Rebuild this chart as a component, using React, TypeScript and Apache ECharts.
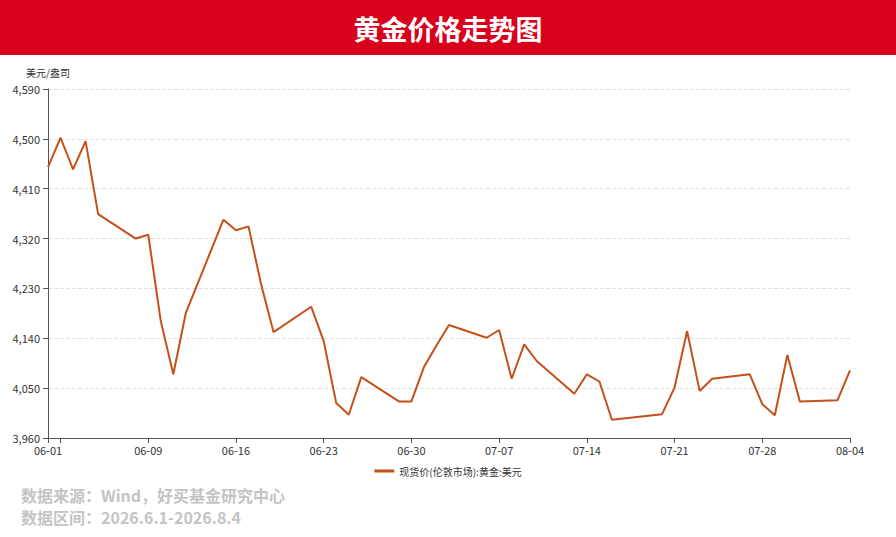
import React, { useEffect, useRef } from "react";
import * as echarts from "echarts";

const titleText = "黄金价格走势图";
const unitName = "美元/盎司";
const seriesName = "现货价(伦敦市场):黄金:美元";
const sourceLines = ["数据来源：Wind，好买基金研究中心", "数据区间：2026.6.1-2026.8.4"];

const dates = [
  "06-01", "06-02", "06-03", "06-04", "06-05", "06-06", "06-07", "06-08", "06-09", "06-10",
  "06-11", "06-12", "06-13", "06-14", "06-15", "06-16", "06-17", "06-18", "06-19", "06-20",
  "06-21", "06-22", "06-23", "06-24", "06-25", "06-26", "06-27", "06-28", "06-29", "06-30",
  "07-01", "07-02", "07-03", "07-04", "07-05", "07-06", "07-07", "07-08", "07-09", "07-10",
  "07-11", "07-12", "07-13", "07-14", "07-15", "07-16", "07-17", "07-18", "07-19", "07-20",
  "07-21", "07-22", "07-23", "07-24", "07-25", "07-26", "07-27", "07-28", "07-29", "07-30",
  "07-31", "08-01", "08-02", "08-03", "08-04",
];

const goldPrice: (number | null)[] = [
  4449, 4502, 4445, 4496, 4364, null, null, 4320, 4327, 4171,
  4075, 4186, null, null, 4354, 4335, 4342, 4238, 4151, null,
  null, 4197, 4135, 4023, 4002, 4070, null, null, 4026, 4026,
  4088, 4127, 4164, null, null, 4141, 4155, 4067, 4129, 4099,
  null, null, 4040, 4075, 4062, 3993, null, null, null, 4003,
  4051, 4153, 4045, 4067, null, null, 4075, 4021, 4001, 4110,
  4026, null, null, 4028, 4082,
];

const yMin = 3960;
const yMax = 4590;
const yInterval = 90;

const CJK = '"Noto Sans CJK SC", "Noto Sans", sans-serif';

export default function App() {
  const ref = useRef<HTMLDivElement>(null);

  useEffect(() => {
    document.body.style.margin = "0";
    if (!ref.current) return;
    const chart = echarts.init(ref.current, undefined, { renderer: "svg" });
    const tickShown = (i: number) => i === 0 || (i - 1) % 7 === 0;
    const labelShown = (i: number) => i === 0 || (i > 1 && (i - 1) % 7 === 0);
    chart.setOption({
      animation: false,
      textStyle: { fontFamily: CJK },
      grid: { left: 48, right: 46, top: 89, bottom: 99, containLabel: false },
      graphic: [
        {
          type: "rect",
          left: 0,
          top: 0,
          shape: { x: 0, y: 0, width: 896, height: 55 },
          style: { fill: "#D9001B" },
          z: 0,
        },
        {
          type: "text",
          left: "center",
          top: 15,
          style: {
            text: titleText,
            fill: "#ffffff",
            font: `bold 27px ${CJK}`,
          },
          z: 1,
        },
        {
          type: "text",
          left: 21,
          top: 487,
          style: {
            text: sourceLines[0],
            fill: "#c4c4c4",
            font: `bold 16px ${CJK}`,
          },
        },
        {
          type: "text",
          left: 21,
          top: 509,
          style: {
            text: sourceLines[1],
            fill: "#c4c4c4",
            font: `bold 16px ${CJK}`,
          },
        },
      ],
      legend: {
        left: "center",
        top: 461,
        itemWidth: 20,
        itemHeight: 3,
        itemGap: 10,
        textStyle: { fontSize: 10, color: "#333", fontFamily: CJK },
        data: [{ name: seriesName, icon: "rect" }],
      },
      xAxis: {
        type: "category",
        data: dates,
        boundaryGap: false,
        axisLine: { lineStyle: { color: "#555" } },
        axisTick: { interval: tickShown, length: 5, lineStyle: { color: "#555" } },
        axisLabel: { interval: labelShown, color: "#333", fontSize: 11, margin: 6 },
        splitLine: { show: false },
      },
      yAxis: {
        type: "value",
        min: yMin,
        max: yMax,
        interval: yInterval,
        name: unitName,
        nameGap: 12,
        nameTextStyle: { color: "#333", fontSize: 10, align: "center" },
        axisLine: { show: true, lineStyle: { color: "#555" } },
        axisTick: { show: true, length: 5, lineStyle: { color: "#555" } },
        axisLabel: {
          color: "#333",
          fontSize: 11,
          margin: 8,
          formatter: (v: number) => v.toLocaleString("en-US"),
        },
        splitLine: { lineStyle: { type: "dashed", color: "#e2e2e2" } },
      },
      series: [
        {
          name: seriesName,
          type: "line",
          data: goldPrice,
          connectNulls: true,
          symbol: "none",
          lineStyle: { color: "#C4501A", width: 2 },
          itemStyle: { color: "#C4501A" },
        },
      ],
    });
    return () => chart.dispose();
  }, []);

  return <div ref={ref} style={{ width: 896, height: 537 }} />;
}
